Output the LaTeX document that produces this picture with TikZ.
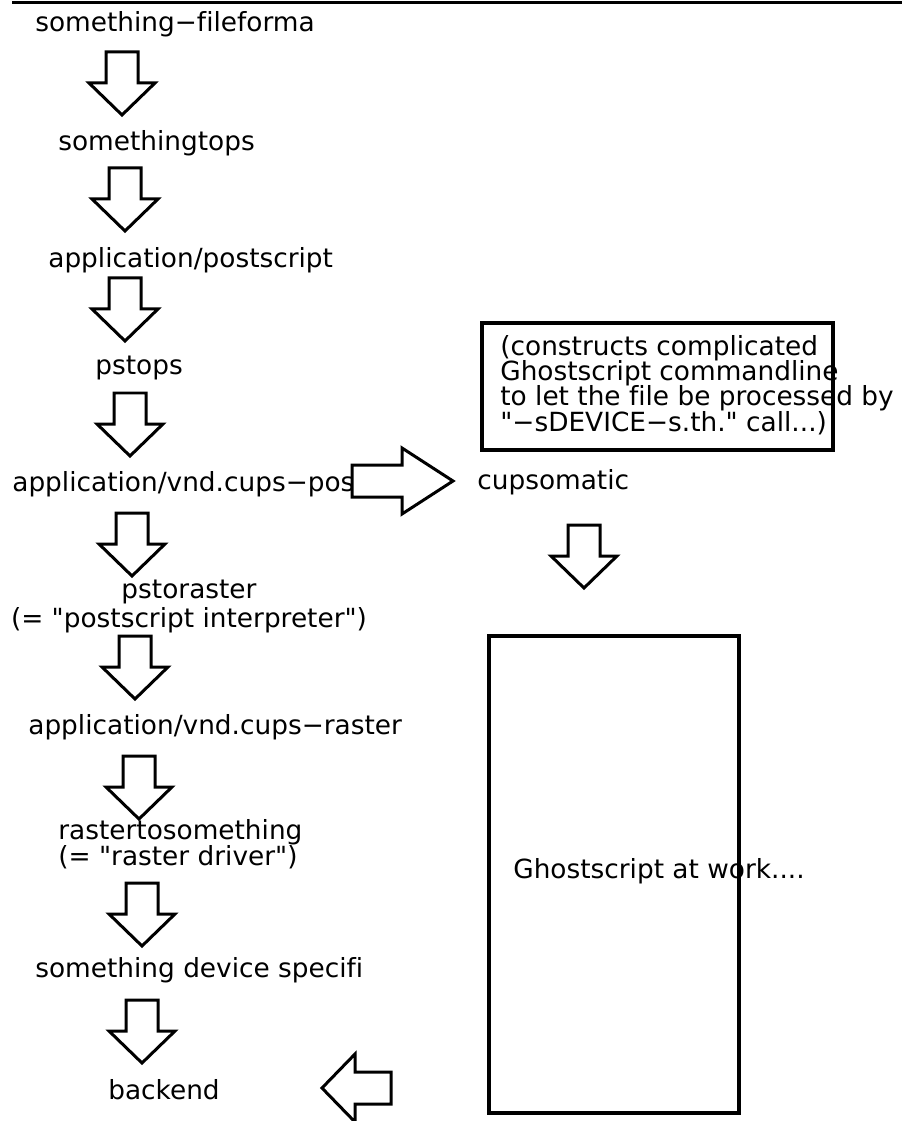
\documentclass[tikz,border=0pt]{standalone}
\usepackage{fontspec}
\setmainfont{DejaVu Sans}[Ligatures={TeXOff,NoCommon}]
\newcommand\lblfont{\fontsize{15}{14.3}\selectfont\setlength{\lineskiplimit}{-10pt}}

\begin{document}
\begin{tikzpicture}[
      x=0.02cm, y=-0.02cm,
      lbl/.style={anchor=base west, inner sep=0pt, font=\lblfont},
      frame/.style={draw, line width=0.07cm},
      outl/.style={draw, fill=white, line width=0.06cm},
      downarr/.pic={\path[outl] (-16,0) -- (16,0) -- (16,31) -- (33,31) -- (0,63) -- (-33,31) -- (-16,31) -- cycle;},
      rightarr/.pic={\path[outl] (0,-16) -- (50,-16) -- (50,-33) -- (101,0) -- (50,33) -- (50,16) -- (0,16) -- cycle;},
      leftarr/.pic={\path[outl] (0,0) -- (33,-34) -- (33,-16) -- (69,-16) -- (69,16) -- (33,16) -- (33,34) -- cycle;}
    ]
      \useasboundingbox (0,0) rectangle (902,1121);
      \draw[line width=0.06cm] (12,3) -- (902,3);

      % left column (multi-line nodes sit on their last line)
      \node[lbl] (fmt) at (35,32) {something−fileforma};
      \node[lbl] (tops) at (58,151) {somethingtops};
      \node[lbl] (appps) at (48,268) {application/postscript};
      \node[lbl] (pstops) at (95,375) {pstops};
      \node[lbl] (cupsps) at (12,491) {application/vnd.cups−pos};
      \node[lbl, anchor=base, align=center] (pstoraster) at (189,627) {pstoraster\\[2pt](= "postscript interpreter")};
      \node[lbl] (raster) at (28,734) {application/vnd.cups−raster};
      \node[lbl, align=left] (rastertos) at (58,865) {rastertosomething\\(= "raster driver")};
      \node[lbl] (devspec) at (35,977) {something device specifi};
      \node[lbl] (backend) at (108,1099) {backend};

      \foreach \ax/\ay in {122/52, 125/168, 125/278, 130/393, 132/513, 135/636, 139/756, 142/883, 142/1000}
        \pic at (\ax,\ay) {downarr};

      % right column
      \node[lbl, align=left] (gsnote) at (500,431) {(constructs complicated\\Ghostscript commandline\\to let the file be processed by\\"−sDEVICE−s.th." call...)};
      \draw[frame] (482,323) rectangle (833,450);
      \node[lbl] (cupsomatic) at (477,489) {cupsomatic};
      \pic at (352,481) {rightarr};
      \pic at (584,525) {downarr};
      \node[lbl] (gswork) at (513,878) {Ghostscript at work....};
      \draw[frame] (489,636) rectangle (739,1113);
      \pic at (322,1088) {leftarr};
    \end{tikzpicture}
\end{document}
